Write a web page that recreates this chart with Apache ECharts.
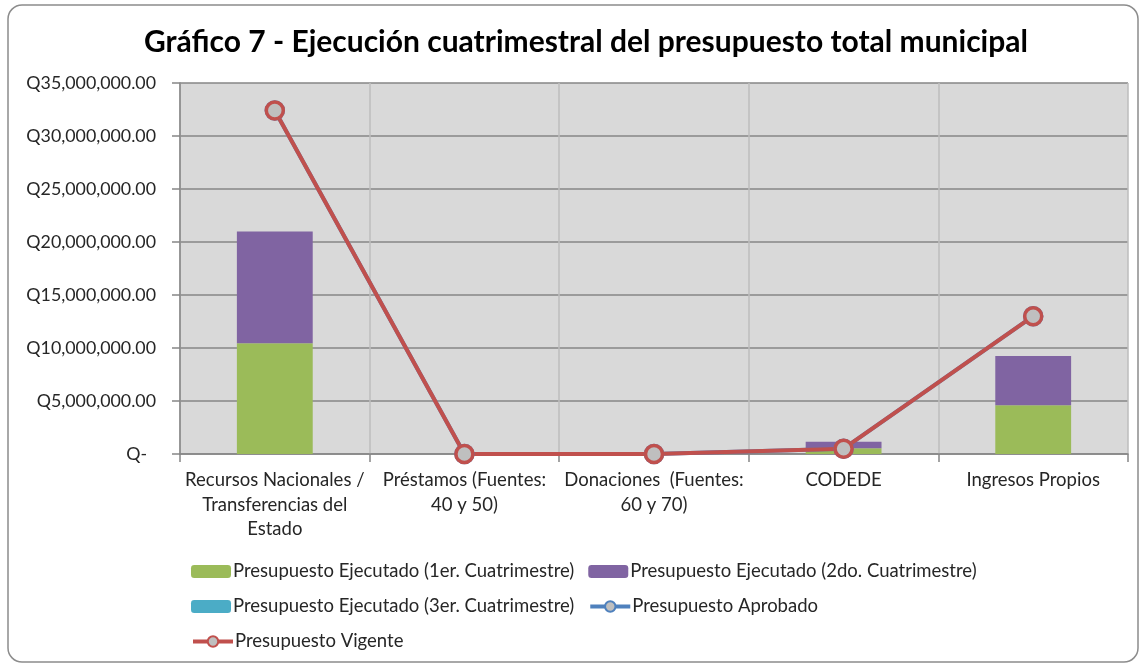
<!DOCTYPE html>
<html><head><meta charset="utf-8">
<script src="https://cdn.jsdelivr.net/npm/echarts@6/dist/echarts.min.js"></script>
<style>html,body{margin:0;padding:0;background:#fff}#c{width:1143px;height:666px}</style>
</head><body><div id="c"></div>
<script>
const categories = ['Recursos Nacionales /\nTransferencias del\nEstado', 'Préstamos (Fuentes:\n40 y 50)', 'Donaciones  (Fuentes:\n60 y 70)', 'CODEDE', 'Ingresos Propios'];
const ejec1 = [10450000, 0, 0, 550000, 4600000];
const ejec2 = [10550000, 0, 0, 600000, 4650000];
const ejec3 = [0, 0, 0, 0, 0];
const aprobado = [32400000, 0, 0, 500000, 13000000];
const vigente = [32400000, 0, 0, 500000, 13000000];
const yTicks = {min: 0, max: 35000000, interval: 5000000};

const FONT = 'Lato';
const chart = echarts.init(document.getElementById('c'), null, {renderer: 'canvas'});
const fmt = v => v === 0 ? '{z|Q-}' : 'Q' + v.toLocaleString('en-US', {minimumFractionDigits: 2, maximumFractionDigits: 2});
const names = ['Presupuesto Ejecutado (1er. Cuatrimestre)', 'Presupuesto Ejecutado (2do. Cuatrimestre)', 'Presupuesto Ejecutado (3er. Cuatrimestre)', 'Presupuesto Aprobado', 'Presupuesto Vigente'];
const legendCommon = {left: 186, itemWidth: 40, itemHeight: 13, itemGap: 14,
  textStyle: {fontFamily: FONT, fontSize: 18.5, color: '#262626', padding: [0, 0, 0, -3]},
  lineStyle: {width: 4}, selectedMode: false};
const lineSym = (c) => ({type: 'line', symbol: 'circle', symbolSize: 17, z: 5,
  lineStyle: {color: c, width: 4}, itemStyle: {color: '#bfbfbf', borderColor: c, borderWidth: 3.5}});
chart.setOption({
  animation: false,
  textStyle: {fontFamily: FONT},
  title: {text: 'Gráfico 7 - Ejecución cuatrimestral del presupuesto total municipal', left: 139, top: 22,
    textStyle: {fontFamily: FONT, fontSize: 30, fontWeight: 'bold', color: '#000'}},
  graphic: [{type: 'rect', shape: {x: 8, y: 5, width: 1130, height: 657, r: 14}, style: {fill: 'none', stroke: '#8c8c8c', lineWidth: 1.5}, z: -10}],
  grid: {left: 180, right: 15, top: 83, bottom: 212, show: true, backgroundColor: '#d9d9d9', borderWidth: 0},
  legend: [
    Object.assign({top: 557, data: [names[0], names[1]]}, legendCommon),
    Object.assign({top: 592, data: [names[2], names[3]]}, legendCommon),
    Object.assign({top: 627, data: [names[4]]}, legendCommon)
  ],
  xAxis: {type: 'category', data: categories,
    axisLine: {lineStyle: {color: '#868686', width: 1.5}},
    axisTick: {show: true, alignWithLabel: false, length: 8, lineStyle: {color: '#868686', width: 1.5}},
    splitLine: {show: true, interval: 0, lineStyle: {color: '#bcbcbc', width: 1.5}},
    axisLabel: {interval: 0, margin: 14, fontFamily: FONT, fontSize: 18.5, color: '#262626', lineHeight: 24.5}},
  yAxis: {type: 'value', min: yTicks.min, max: yTicks.max, interval: yTicks.interval,
    axisLine: {show: true, lineStyle: {color: '#868686', width: 1.5}},
    axisTick: {show: true, length: 8, lineStyle: {color: '#868686', width: 1.5}},
    splitLine: {lineStyle: {color: '#868686', width: 1.5}},
    axisLabel: {margin: 24, fontFamily: FONT, fontSize: 17.8, color: '#262626', formatter: fmt,
      rich: {z: {fontFamily: FONT, fontSize: 17.8, color: '#262626', padding: [0, 9, 0, 0]}}}},
  series: [
    {name: names[0], type: 'bar', stack: 'e', data: ejec1, barWidth: '40%', itemStyle: {color: '#9bbb59'}},
    {name: names[1], type: 'bar', stack: 'e', data: ejec2, barWidth: '40%', itemStyle: {color: '#8064a2'}},
    {name: names[2], type: 'bar', stack: 'e', data: ejec3, barWidth: '40%', itemStyle: {color: '#4bacc6'}},
    Object.assign({name: names[3], data: aprobado}, lineSym('#4f81bd')),
    Object.assign({name: names[4], data: vigente}, lineSym('#c0504d'))
  ]
});
</script></body></html>
